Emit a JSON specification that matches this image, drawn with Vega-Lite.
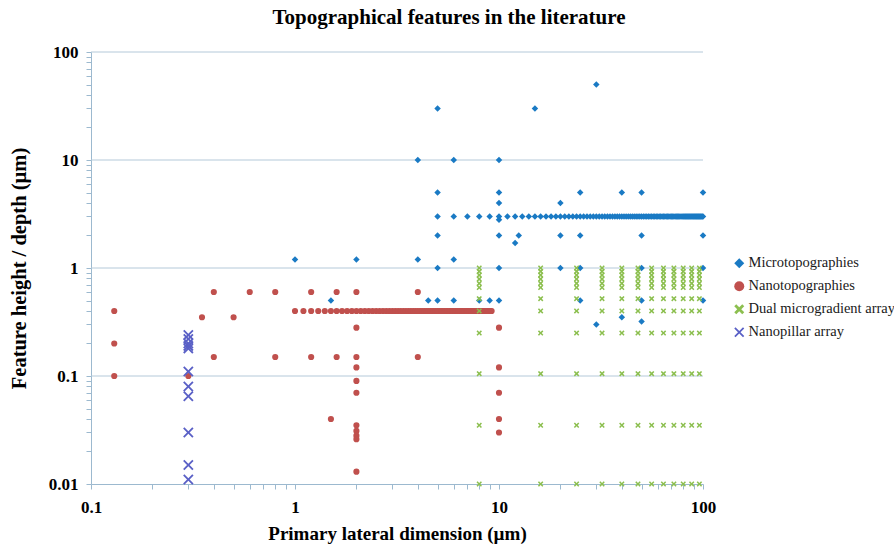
{
"$schema": "https://vega.github.io/schema/vega-lite/v6.json",
"width": 612, "height": 432,
"autosize": {"type": "none"},
"padding": {"left": 91, "top": 52, "right": 191, "bottom": 61},
"background": "white",
"config": {"view": {"stroke": null}},
"title": {"text": "Topographical features in the literature", "font": "Liberation Serif", "fontSize": 21, "fontWeight": "bold", "color": "#000000", "anchor": "middle", "dx": 52, "offset": 15},
"encoding": {
  "y": {"field": "y", "type": "quantitative", "scale": {"type": "log", "domain": [0.01, 100], "nice": false},
   "axis": {"title": "Feature height / depth (µm)", "values": [0.01,0.02,0.03,0.04,0.05,0.06,0.07,0.08,0.09,0.1,0.2,0.3,0.4,0.5,0.6,0.7,0.8,0.9,1,2,3,4,5,6,7,8,9,10,20,30,40,50,60,70,80,90,100],
    "format": "~g", "labelExpr": "datum.value == 0.01 || datum.value == 0.1 || datum.value == 1 || datum.value == 10 || datum.value == 100 ? datum.label : ''",
    "labelOverlap": false, "labelFlush": false, "grid": false,
    "domainColor": "#9cb9cf", "tickColor": "#9cb9cf", "tickSize": 5, "labelPadding": 8,
    "labelFont": "Liberation Serif", "labelFontSize": 17, "labelFontWeight": "bold", "labelColor": "#000000",
    "titleFont": "Liberation Serif", "titleFontSize": 20.5, "titleFontWeight": "bold", "titleColor": "#000000", "titlePadding": 19}}
},
"layer": [
{"data": {"values": [{"y": 0.1}, {"y": 1}, {"y": 10}, {"y": 100}]},
 "mark": {"type": "rule", "color": "#b4c9d9", "strokeWidth": 1},
 "encoding": {}},
{"data": {"values": [
{"s":"Microtopographies","x":1,"y":1.2},{"s":"Microtopographies","x":2,"y":1.2},{"s":"Microtopographies","x":1.5,"y":0.5},
{"s":"Microtopographies","x":4,"y":10},{"s":"Microtopographies","x":6,"y":10},{"s":"Microtopographies","x":10,"y":10},
{"s":"Microtopographies","x":4,"y":1.2},{"s":"Microtopographies","x":6,"y":1.2},
{"s":"Microtopographies","x":4.5,"y":0.5},{"s":"Microtopographies","x":5,"y":0.5},{"s":"Microtopographies","x":6,"y":0.5},{"s":"Microtopographies","x":8,"y":0.5},{"s":"Microtopographies","x":9,"y":0.5},{"s":"Microtopographies","x":10,"y":0.5},
{"s":"Microtopographies","x":5,"y":30},{"s":"Microtopographies","x":15,"y":30},{"s":"Microtopographies","x":30,"y":50},
{"s":"Microtopographies","x":5,"y":5},{"s":"Microtopographies","x":10,"y":5},{"s":"Microtopographies","x":25,"y":5},{"s":"Microtopographies","x":40,"y":5},{"s":"Microtopographies","x":50,"y":5},{"s":"Microtopographies","x":100,"y":5},
{"s":"Microtopographies","x":10,"y":4},{"s":"Microtopographies","x":20,"y":4},{"s":"Microtopographies","x":10,"y":2.8},
{"s":"Microtopographies","x":5,"y":2},{"s":"Microtopographies","x":10,"y":2},{"s":"Microtopographies","x":12.5,"y":2},{"s":"Microtopographies","x":20,"y":2},{"s":"Microtopographies","x":25,"y":2},{"s":"Microtopographies","x":50,"y":2},{"s":"Microtopographies","x":100,"y":2},
{"s":"Microtopographies","x":12,"y":1.7},
{"s":"Microtopographies","x":5,"y":1},{"s":"Microtopographies","x":10,"y":1},{"s":"Microtopographies","x":20,"y":1},{"s":"Microtopographies","x":25,"y":1},{"s":"Microtopographies","x":50,"y":1},{"s":"Microtopographies","x":100,"y":1},
{"s":"Microtopographies","x":25,"y":0.5},{"s":"Microtopographies","x":50,"y":0.5},{"s":"Microtopographies","x":100,"y":0.5},
{"s":"Microtopographies","x":30,"y":0.3},{"s":"Microtopographies","x":40,"y":0.35},{"s":"Microtopographies","x":50,"y":0.32},
{"s":"Microtopographies","x":5,"y":3},{"s":"Microtopographies","x":6,"y":3},{"s":"Microtopographies","x":7,"y":3},{"s":"Microtopographies","x":8,"y":3},{"s":"Microtopographies","x":9,"y":3},{"s":"Microtopographies","x":10,"y":3},
{"s":"Microtopographies","x":11,"y":3},{"s":"Microtopographies","x":12,"y":3},{"s":"Microtopographies","x":13,"y":3},{"s":"Microtopographies","x":14,"y":3},{"s":"Microtopographies","x":15,"y":3},{"s":"Microtopographies","x":16,"y":3},{"s":"Microtopographies","x":17,"y":3},{"s":"Microtopographies","x":18,"y":3},{"s":"Microtopographies","x":19,"y":3},{"s":"Microtopographies","x":20,"y":3},
{"s":"Microtopographies","x":21,"y":3},{"s":"Microtopographies","x":22,"y":3},{"s":"Microtopographies","x":23,"y":3},{"s":"Microtopographies","x":24,"y":3},{"s":"Microtopographies","x":25,"y":3},{"s":"Microtopographies","x":26,"y":3},{"s":"Microtopographies","x":27,"y":3},{"s":"Microtopographies","x":28,"y":3},{"s":"Microtopographies","x":29,"y":3},{"s":"Microtopographies","x":30,"y":3},
{"s":"Microtopographies","x":31,"y":3},{"s":"Microtopographies","x":32,"y":3},{"s":"Microtopographies","x":33,"y":3},{"s":"Microtopographies","x":34,"y":3},{"s":"Microtopographies","x":35,"y":3},{"s":"Microtopographies","x":36,"y":3},{"s":"Microtopographies","x":37,"y":3},{"s":"Microtopographies","x":38,"y":3},{"s":"Microtopographies","x":39,"y":3},{"s":"Microtopographies","x":40,"y":3},
{"s":"Microtopographies","x":41,"y":3},{"s":"Microtopographies","x":42,"y":3},{"s":"Microtopographies","x":43,"y":3},{"s":"Microtopographies","x":44,"y":3},{"s":"Microtopographies","x":45,"y":3},{"s":"Microtopographies","x":46,"y":3},{"s":"Microtopographies","x":47,"y":3},{"s":"Microtopographies","x":48,"y":3},{"s":"Microtopographies","x":49,"y":3},{"s":"Microtopographies","x":50,"y":3},
{"s":"Microtopographies","x":51,"y":3},{"s":"Microtopographies","x":52,"y":3},{"s":"Microtopographies","x":53,"y":3},{"s":"Microtopographies","x":54,"y":3},{"s":"Microtopographies","x":55,"y":3},{"s":"Microtopographies","x":56,"y":3},{"s":"Microtopographies","x":57,"y":3},{"s":"Microtopographies","x":58,"y":3},{"s":"Microtopographies","x":59,"y":3},{"s":"Microtopographies","x":60,"y":3},
{"s":"Microtopographies","x":61,"y":3},{"s":"Microtopographies","x":62,"y":3},{"s":"Microtopographies","x":63,"y":3},{"s":"Microtopographies","x":64,"y":3},{"s":"Microtopographies","x":65,"y":3},{"s":"Microtopographies","x":66,"y":3},{"s":"Microtopographies","x":67,"y":3},{"s":"Microtopographies","x":68,"y":3},{"s":"Microtopographies","x":69,"y":3},{"s":"Microtopographies","x":70,"y":3},
{"s":"Microtopographies","x":71,"y":3},{"s":"Microtopographies","x":72,"y":3},{"s":"Microtopographies","x":73,"y":3},{"s":"Microtopographies","x":74,"y":3},{"s":"Microtopographies","x":75,"y":3},{"s":"Microtopographies","x":76,"y":3},{"s":"Microtopographies","x":77,"y":3},{"s":"Microtopographies","x":78,"y":3},{"s":"Microtopographies","x":79,"y":3},{"s":"Microtopographies","x":80,"y":3},
{"s":"Microtopographies","x":81,"y":3},{"s":"Microtopographies","x":82,"y":3},{"s":"Microtopographies","x":83,"y":3},{"s":"Microtopographies","x":84,"y":3},{"s":"Microtopographies","x":85,"y":3},{"s":"Microtopographies","x":86,"y":3},{"s":"Microtopographies","x":87,"y":3},{"s":"Microtopographies","x":88,"y":3},{"s":"Microtopographies","x":89,"y":3},{"s":"Microtopographies","x":90,"y":3},
{"s":"Microtopographies","x":91,"y":3},{"s":"Microtopographies","x":92,"y":3},{"s":"Microtopographies","x":93,"y":3},{"s":"Microtopographies","x":94,"y":3},{"s":"Microtopographies","x":95,"y":3},{"s":"Microtopographies","x":96,"y":3},{"s":"Microtopographies","x":97,"y":3},{"s":"Microtopographies","x":98,"y":3},{"s":"Microtopographies","x":99,"y":3},{"s":"Microtopographies","x":100,"y":3},

{"s":"Nanotopographies","x":0.13,"y":0.4},{"s":"Nanotopographies","x":0.13,"y":0.2},{"s":"Nanotopographies","x":0.13,"y":0.1},
{"s":"Nanotopographies","x":0.3,"y":0.1},{"s":"Nanotopographies","x":0.35,"y":0.35},{"s":"Nanotopographies","x":0.4,"y":0.6},{"s":"Nanotopographies","x":0.4,"y":0.15},{"s":"Nanotopographies","x":0.5,"y":0.35},
{"s":"Nanotopographies","x":0.6,"y":0.6},{"s":"Nanotopographies","x":0.8,"y":0.6},{"s":"Nanotopographies","x":0.8,"y":0.15},
{"s":"Nanotopographies","x":1.2,"y":0.6},{"s":"Nanotopographies","x":1.2,"y":0.15},{"s":"Nanotopographies","x":1.5,"y":0.04},{"s":"Nanotopographies","x":1.6,"y":0.6},{"s":"Nanotopographies","x":1.6,"y":0.15},
{"s":"Nanotopographies","x":2,"y":0.6},{"s":"Nanotopographies","x":2,"y":0.28},{"s":"Nanotopographies","x":2,"y":0.15},{"s":"Nanotopographies","x":2,"y":0.12},{"s":"Nanotopographies","x":2,"y":0.09},{"s":"Nanotopographies","x":2,"y":0.07},
{"s":"Nanotopographies","x":2,"y":0.035},{"s":"Nanotopographies","x":2,"y":0.031},{"s":"Nanotopographies","x":2,"y":0.028},{"s":"Nanotopographies","x":2,"y":0.026},{"s":"Nanotopographies","x":2,"y":0.013},
{"s":"Nanotopographies","x":4,"y":0.6},{"s":"Nanotopographies","x":4,"y":0.15},
{"s":"Nanotopographies","x":10,"y":0.28},{"s":"Nanotopographies","x":10,"y":0.12},{"s":"Nanotopographies","x":10,"y":0.07},{"s":"Nanotopographies","x":10,"y":0.04},{"s":"Nanotopographies","x":10,"y":0.03},
{"s":"Nanotopographies","x":1.0,"y":0.4},{"s":"Nanotopographies","x":1.1,"y":0.4},{"s":"Nanotopographies","x":1.2,"y":0.4},{"s":"Nanotopographies","x":1.3,"y":0.4},{"s":"Nanotopographies","x":1.4,"y":0.4},{"s":"Nanotopographies","x":1.5,"y":0.4},{"s":"Nanotopographies","x":1.6,"y":0.4},{"s":"Nanotopographies","x":1.7,"y":0.4},{"s":"Nanotopographies","x":1.8,"y":0.4},{"s":"Nanotopographies","x":1.9,"y":0.4},
{"s":"Nanotopographies","x":2.0,"y":0.4},{"s":"Nanotopographies","x":2.1,"y":0.4},{"s":"Nanotopographies","x":2.2,"y":0.4},{"s":"Nanotopographies","x":2.3,"y":0.4},{"s":"Nanotopographies","x":2.4,"y":0.4},{"s":"Nanotopographies","x":2.5,"y":0.4},{"s":"Nanotopographies","x":2.6,"y":0.4},{"s":"Nanotopographies","x":2.7,"y":0.4},{"s":"Nanotopographies","x":2.8,"y":0.4},{"s":"Nanotopographies","x":2.9,"y":0.4},
{"s":"Nanotopographies","x":3.0,"y":0.4},{"s":"Nanotopographies","x":3.1,"y":0.4},{"s":"Nanotopographies","x":3.2,"y":0.4},{"s":"Nanotopographies","x":3.3,"y":0.4},{"s":"Nanotopographies","x":3.4,"y":0.4},{"s":"Nanotopographies","x":3.5,"y":0.4},{"s":"Nanotopographies","x":3.6,"y":0.4},{"s":"Nanotopographies","x":3.7,"y":0.4},{"s":"Nanotopographies","x":3.8,"y":0.4},{"s":"Nanotopographies","x":3.9,"y":0.4},
{"s":"Nanotopographies","x":4.0,"y":0.4},{"s":"Nanotopographies","x":4.1,"y":0.4},{"s":"Nanotopographies","x":4.2,"y":0.4},{"s":"Nanotopographies","x":4.3,"y":0.4},{"s":"Nanotopographies","x":4.4,"y":0.4},{"s":"Nanotopographies","x":4.5,"y":0.4},{"s":"Nanotopographies","x":4.6,"y":0.4},{"s":"Nanotopographies","x":4.7,"y":0.4},{"s":"Nanotopographies","x":4.8,"y":0.4},{"s":"Nanotopographies","x":4.9,"y":0.4},
{"s":"Nanotopographies","x":5.0,"y":0.4},{"s":"Nanotopographies","x":5.1,"y":0.4},{"s":"Nanotopographies","x":5.2,"y":0.4},{"s":"Nanotopographies","x":5.3,"y":0.4},{"s":"Nanotopographies","x":5.4,"y":0.4},{"s":"Nanotopographies","x":5.5,"y":0.4},{"s":"Nanotopographies","x":5.6,"y":0.4},{"s":"Nanotopographies","x":5.7,"y":0.4},{"s":"Nanotopographies","x":5.8,"y":0.4},{"s":"Nanotopographies","x":5.9,"y":0.4},
{"s":"Nanotopographies","x":6.0,"y":0.4},{"s":"Nanotopographies","x":6.1,"y":0.4},{"s":"Nanotopographies","x":6.2,"y":0.4},{"s":"Nanotopographies","x":6.3,"y":0.4},{"s":"Nanotopographies","x":6.4,"y":0.4},{"s":"Nanotopographies","x":6.5,"y":0.4},{"s":"Nanotopographies","x":6.6,"y":0.4},{"s":"Nanotopographies","x":6.7,"y":0.4},{"s":"Nanotopographies","x":6.8,"y":0.4},{"s":"Nanotopographies","x":6.9,"y":0.4},
{"s":"Nanotopographies","x":7.0,"y":0.4},{"s":"Nanotopographies","x":7.1,"y":0.4},{"s":"Nanotopographies","x":7.2,"y":0.4},{"s":"Nanotopographies","x":7.3,"y":0.4},{"s":"Nanotopographies","x":7.4,"y":0.4},{"s":"Nanotopographies","x":7.5,"y":0.4},{"s":"Nanotopographies","x":7.6,"y":0.4},{"s":"Nanotopographies","x":7.7,"y":0.4},{"s":"Nanotopographies","x":7.8,"y":0.4},{"s":"Nanotopographies","x":7.9,"y":0.4},
{"s":"Nanotopographies","x":8.0,"y":0.4},{"s":"Nanotopographies","x":8.1,"y":0.4},{"s":"Nanotopographies","x":8.2,"y":0.4},{"s":"Nanotopographies","x":8.3,"y":0.4},{"s":"Nanotopographies","x":8.4,"y":0.4},{"s":"Nanotopographies","x":8.5,"y":0.4},{"s":"Nanotopographies","x":8.6,"y":0.4},{"s":"Nanotopographies","x":8.7,"y":0.4},{"s":"Nanotopographies","x":8.8,"y":0.4},{"s":"Nanotopographies","x":8.9,"y":0.4},
{"s":"Nanotopographies","x":9.0,"y":0.4},{"s":"Nanotopographies","x":9.1,"y":0.4},{"s":"Nanotopographies","x":9.2,"y":0.4},

{"s":"Dual microgradient array","x":8,"y":1},{"s":"Dual microgradient array","x":8,"y":0.93},{"s":"Dual microgradient array","x":8,"y":0.86},{"s":"Dual microgradient array","x":8,"y":0.79},{"s":"Dual microgradient array","x":8,"y":0.72},{"s":"Dual microgradient array","x":8,"y":0.66},{"s":"Dual microgradient array","x":8,"y":0.52},{"s":"Dual microgradient array","x":8,"y":0.4},{"s":"Dual microgradient array","x":8,"y":0.25},{"s":"Dual microgradient array","x":8,"y":0.105},{"s":"Dual microgradient array","x":8,"y":0.035},{"s":"Dual microgradient array","x":8,"y":0.01},
{"s":"Dual microgradient array","x":16,"y":1},{"s":"Dual microgradient array","x":16,"y":0.93},{"s":"Dual microgradient array","x":16,"y":0.86},{"s":"Dual microgradient array","x":16,"y":0.79},{"s":"Dual microgradient array","x":16,"y":0.72},{"s":"Dual microgradient array","x":16,"y":0.66},{"s":"Dual microgradient array","x":16,"y":0.52},{"s":"Dual microgradient array","x":16,"y":0.4},{"s":"Dual microgradient array","x":16,"y":0.25},{"s":"Dual microgradient array","x":16,"y":0.105},{"s":"Dual microgradient array","x":16,"y":0.035},{"s":"Dual microgradient array","x":16,"y":0.01},
{"s":"Dual microgradient array","x":24,"y":1},{"s":"Dual microgradient array","x":24,"y":0.93},{"s":"Dual microgradient array","x":24,"y":0.86},{"s":"Dual microgradient array","x":24,"y":0.79},{"s":"Dual microgradient array","x":24,"y":0.72},{"s":"Dual microgradient array","x":24,"y":0.66},{"s":"Dual microgradient array","x":24,"y":0.52},{"s":"Dual microgradient array","x":24,"y":0.4},{"s":"Dual microgradient array","x":24,"y":0.25},{"s":"Dual microgradient array","x":24,"y":0.105},{"s":"Dual microgradient array","x":24,"y":0.035},{"s":"Dual microgradient array","x":24,"y":0.01},
{"s":"Dual microgradient array","x":32,"y":1},{"s":"Dual microgradient array","x":32,"y":0.93},{"s":"Dual microgradient array","x":32,"y":0.86},{"s":"Dual microgradient array","x":32,"y":0.79},{"s":"Dual microgradient array","x":32,"y":0.72},{"s":"Dual microgradient array","x":32,"y":0.66},{"s":"Dual microgradient array","x":32,"y":0.52},{"s":"Dual microgradient array","x":32,"y":0.4},{"s":"Dual microgradient array","x":32,"y":0.25},{"s":"Dual microgradient array","x":32,"y":0.105},{"s":"Dual microgradient array","x":32,"y":0.035},{"s":"Dual microgradient array","x":32,"y":0.01},
{"s":"Dual microgradient array","x":40,"y":1},{"s":"Dual microgradient array","x":40,"y":0.93},{"s":"Dual microgradient array","x":40,"y":0.86},{"s":"Dual microgradient array","x":40,"y":0.79},{"s":"Dual microgradient array","x":40,"y":0.72},{"s":"Dual microgradient array","x":40,"y":0.66},{"s":"Dual microgradient array","x":40,"y":0.52},{"s":"Dual microgradient array","x":40,"y":0.4},{"s":"Dual microgradient array","x":40,"y":0.25},{"s":"Dual microgradient array","x":40,"y":0.105},{"s":"Dual microgradient array","x":40,"y":0.035},{"s":"Dual microgradient array","x":40,"y":0.01},
{"s":"Dual microgradient array","x":48,"y":1},{"s":"Dual microgradient array","x":48,"y":0.93},{"s":"Dual microgradient array","x":48,"y":0.86},{"s":"Dual microgradient array","x":48,"y":0.79},{"s":"Dual microgradient array","x":48,"y":0.72},{"s":"Dual microgradient array","x":48,"y":0.66},{"s":"Dual microgradient array","x":48,"y":0.52},{"s":"Dual microgradient array","x":48,"y":0.4},{"s":"Dual microgradient array","x":48,"y":0.25},{"s":"Dual microgradient array","x":48,"y":0.105},{"s":"Dual microgradient array","x":48,"y":0.035},{"s":"Dual microgradient array","x":48,"y":0.01},
{"s":"Dual microgradient array","x":56,"y":1},{"s":"Dual microgradient array","x":56,"y":0.93},{"s":"Dual microgradient array","x":56,"y":0.86},{"s":"Dual microgradient array","x":56,"y":0.79},{"s":"Dual microgradient array","x":56,"y":0.72},{"s":"Dual microgradient array","x":56,"y":0.66},{"s":"Dual microgradient array","x":56,"y":0.52},{"s":"Dual microgradient array","x":56,"y":0.4},{"s":"Dual microgradient array","x":56,"y":0.25},{"s":"Dual microgradient array","x":56,"y":0.105},{"s":"Dual microgradient array","x":56,"y":0.035},{"s":"Dual microgradient array","x":56,"y":0.01},
{"s":"Dual microgradient array","x":64,"y":1},{"s":"Dual microgradient array","x":64,"y":0.93},{"s":"Dual microgradient array","x":64,"y":0.86},{"s":"Dual microgradient array","x":64,"y":0.79},{"s":"Dual microgradient array","x":64,"y":0.72},{"s":"Dual microgradient array","x":64,"y":0.66},{"s":"Dual microgradient array","x":64,"y":0.52},{"s":"Dual microgradient array","x":64,"y":0.4},{"s":"Dual microgradient array","x":64,"y":0.25},{"s":"Dual microgradient array","x":64,"y":0.105},{"s":"Dual microgradient array","x":64,"y":0.035},{"s":"Dual microgradient array","x":64,"y":0.01},
{"s":"Dual microgradient array","x":72,"y":1},{"s":"Dual microgradient array","x":72,"y":0.93},{"s":"Dual microgradient array","x":72,"y":0.86},{"s":"Dual microgradient array","x":72,"y":0.79},{"s":"Dual microgradient array","x":72,"y":0.72},{"s":"Dual microgradient array","x":72,"y":0.66},{"s":"Dual microgradient array","x":72,"y":0.52},{"s":"Dual microgradient array","x":72,"y":0.4},{"s":"Dual microgradient array","x":72,"y":0.25},{"s":"Dual microgradient array","x":72,"y":0.105},{"s":"Dual microgradient array","x":72,"y":0.035},{"s":"Dual microgradient array","x":72,"y":0.01},
{"s":"Dual microgradient array","x":80,"y":1},{"s":"Dual microgradient array","x":80,"y":0.93},{"s":"Dual microgradient array","x":80,"y":0.86},{"s":"Dual microgradient array","x":80,"y":0.79},{"s":"Dual microgradient array","x":80,"y":0.72},{"s":"Dual microgradient array","x":80,"y":0.66},{"s":"Dual microgradient array","x":80,"y":0.52},{"s":"Dual microgradient array","x":80,"y":0.4},{"s":"Dual microgradient array","x":80,"y":0.25},{"s":"Dual microgradient array","x":80,"y":0.105},{"s":"Dual microgradient array","x":80,"y":0.035},{"s":"Dual microgradient array","x":80,"y":0.01},
{"s":"Dual microgradient array","x":88,"y":1},{"s":"Dual microgradient array","x":88,"y":0.93},{"s":"Dual microgradient array","x":88,"y":0.86},{"s":"Dual microgradient array","x":88,"y":0.79},{"s":"Dual microgradient array","x":88,"y":0.72},{"s":"Dual microgradient array","x":88,"y":0.66},{"s":"Dual microgradient array","x":88,"y":0.52},{"s":"Dual microgradient array","x":88,"y":0.4},{"s":"Dual microgradient array","x":88,"y":0.25},{"s":"Dual microgradient array","x":88,"y":0.105},{"s":"Dual microgradient array","x":88,"y":0.035},{"s":"Dual microgradient array","x":88,"y":0.01},
{"s":"Dual microgradient array","x":96,"y":1},{"s":"Dual microgradient array","x":96,"y":0.93},{"s":"Dual microgradient array","x":96,"y":0.86},{"s":"Dual microgradient array","x":96,"y":0.79},{"s":"Dual microgradient array","x":96,"y":0.72},{"s":"Dual microgradient array","x":96,"y":0.66},{"s":"Dual microgradient array","x":96,"y":0.52},{"s":"Dual microgradient array","x":96,"y":0.4},{"s":"Dual microgradient array","x":96,"y":0.25},{"s":"Dual microgradient array","x":96,"y":0.105},{"s":"Dual microgradient array","x":96,"y":0.035},{"s":"Dual microgradient array","x":96,"y":0.01},

{"s":"Nanopillar array","x":0.3,"y":0.24},{"s":"Nanopillar array","x":0.3,"y":0.22},{"s":"Nanopillar array","x":0.3,"y":0.2},{"s":"Nanopillar array","x":0.3,"y":0.19},{"s":"Nanopillar array","x":0.3,"y":0.18},{"s":"Nanopillar array","x":0.3,"y":0.11},{"s":"Nanopillar array","x":0.3,"y":0.08},{"s":"Nanopillar array","x":0.3,"y":0.065},{"s":"Nanopillar array","x":0.3,"y":0.03},{"s":"Nanopillar array","x":0.3,"y":0.015},{"s":"Nanopillar array","x":0.3,"y":0.011}
]},
 "mark": {"type": "point", "filled": true, "opacity": 1},
 "encoding": {
  "x": {"field": "x", "type": "quantitative", "scale": {"type": "log", "domain": [0.1, 100], "nice": false},
   "axis": {"title": "Primary lateral dimension (µm)", "values": [0.1,0.2,0.3,0.4,0.5,0.6,0.7,0.8,0.9,1,2,3,4,5,6,7,8,9,10,20,30,40,50,60,70,80,90,100],
    "format": "~g", "labelExpr": "datum.value == 0.1 || datum.value == 1 || datum.value == 10 || datum.value == 100 ? datum.label : ''",
    "labelOverlap": false, "labelFlush": false, "grid": false,
    "domainColor": "#9cb9cf", "tickColor": "#9cb9cf", "tickSize": 5, "labelPadding": 10,
    "labelFont": "Liberation Serif", "labelFontSize": 17, "labelFontWeight": "bold", "labelColor": "#000000",
    "titleFont": "Liberation Serif", "titleFontSize": 19, "titleFontWeight": "bold", "titleColor": "#000000", "titlePadding": 9}},
  "color": {"field": "s", "type": "nominal",
   "scale": {"domain": ["Microtopographies", "Nanotopographies", "Dual microgradient array", "Nanopillar array"], "range": ["#1a7ac4", "#c0504d", "#8cbf4f", "#5a60c6"]},
   "legend": {"title": null, "orient": "none", "legendX": 641, "legendY": 204, "labelFont": "Liberation Serif", "labelFontSize": 14.5, "labelColor": "#1a1a1a", "rowPadding": 8, "labelOffset": 2,
     "encode": {"symbols": {"update": {"size": {"signal": "datum.value === 'Nanopillar array' ? 95 : (datum.value === 'Dual microgradient array' ? 22 : 26)"}}}}}},
  "shape": {"field": "s", "type": "nominal",
   "scale": {"domain": ["Microtopographies", "Nanotopographies", "Dual microgradient array", "Nanopillar array"], "range": ["diamond", "circle", "M-1,-0.6L-0.6,-1L0,-0.4L0.6,-1L1,-0.6L0.4,0L1,0.6L0.6,1L0,0.4L-0.6,1L-1,0.6L-0.4,0Z", "M-1,-0.75L-0.75,-1L0,-0.25L0.75,-1L1,-0.75L0.25,0L1,0.75L0.75,1L0,0.25L-0.75,1L-1,0.75L-0.25,0Z"]},
   "legend": {"title": null}},
  "size": {"value": 42, "condition": [{"test": "datum.s === 'Nanopillar array'", "value": 110}, {"test": "datum.s === 'Dual microgradient array'", "value": 30}, {"test": "datum.s === 'Nanotopographies'", "value": 38}]}
 }}
]
}
